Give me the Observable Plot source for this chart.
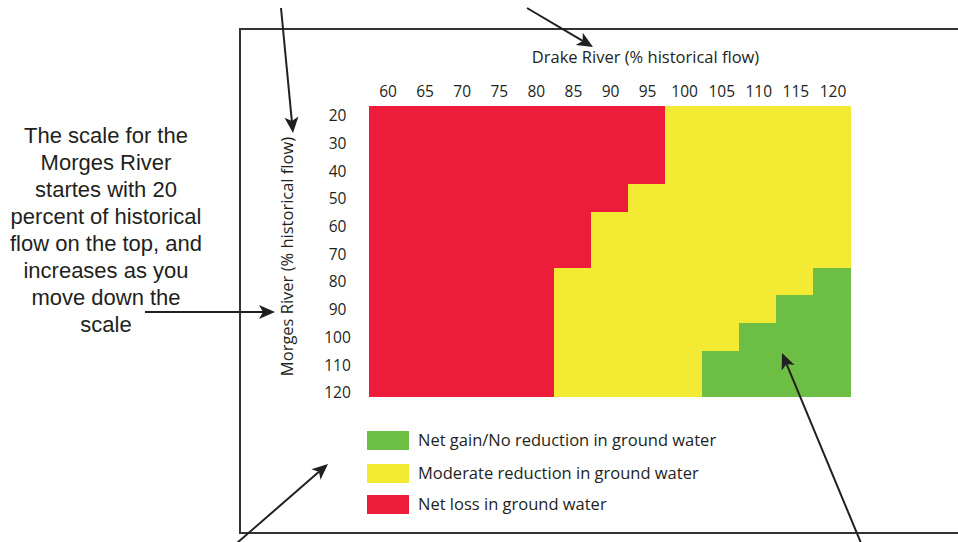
<!DOCTYPE html>
<html><head><meta charset="utf-8">
<script src="https://cdn.jsdelivr.net/npm/d3@7"></script>
<script src="https://cdn.jsdelivr.net/npm/@observablehq/plot@0.6"></script>
<style>
html,body{margin:0;padding:0;background:#fff;}
#chart svg{display:block;}
</style></head><body><div id="chart"></div>
<script>
// Drake River (% historical flow) columns, Morges River (% historical flow) rows
const drakeFlow = [60, 65, 70, 75, 80, 85, 90, 95, 100, 105, 110, 115, 120];
const morgesFlow = [20, 30, 40, 50, 60, 70, 80, 90, 100, 110, 120];
// per Morges row: highest Drake value with a net loss, lowest Drake value with a net gain
const lossUpToDrake = [95, 95, 95, 90, 85, 85, 80, 80, 80, 80, 80];
const gainFromDrake = [null, null, null, null, null, null, 120, 115, 110, 105, 105];
const categories = ["Net gain/No reduction in ground water", "Moderate reduction in ground water", "Net loss in ground water"];
const categoryColors = ["#6dbe45", "#f3eb33", "#ed1c3a"];
const drakeLabel = "Drake River (% historical flow)";
const morgesLabel = "Morges River (% historical flow)";
const noteLines = ["The scale for the", "Morges River", "startes with 20", "percent of historical", "flow on the top, and", "increases as you", "move down the", "scale"];

const cells = [];
morgesFlow.forEach((m, i) => drakeFlow.forEach(d => {
  let c = categories[1];
  if (d <= lossUpToDrake[i]) c = categories[2];
  else if (gainFromDrake[i] != null && d >= gainFromDrake[i]) c = categories[0];
  cells.push({drake: d, morges: m, outcome: c});
}));

const ink = "#231f20";
const font = "'Open Sans', sans-serif";
const plot = Plot.plot({
  width: 958, height: 542,
  marginLeft: 369, marginRight: 107, marginTop: 106, marginBottom: 145,
  style: {background: "#fff", fontFamily: font, color: ink, overflow: "visible"},
  x: {domain: [57.5, 122.5], axis: null},
  y: {domain: [16.5, 121.5], reverse: true, axis: null},
  color: {domain: categories, range: categoryColors},
  marks: [
    Plot.rect(cells, {x1: d => d.drake - 2.5, x2: d => d.drake + 2.5, y1: d => d.morges - 5, y2: d => d.morges + 5, fill: "outcome", stroke: "outcome", strokeWidth: 1, shapeRendering: "crispEdges", clip: true}),
    Plot.text(drakeFlow, {x: d => d, text: d => String(d), frameAnchor: "top", lineAnchor: "middle", textAnchor: "middle", dy: -14, fontSize: 15.5, fill: ink}),
    Plot.text(morgesFlow, {y: d => d, text: d => String(d), frameAnchor: "left", lineAnchor: "middle", textAnchor: "middle", dx: -32, fontSize: 15.5, fill: ink}),
    Plot.text([drakeLabel], {text: d => d, frameAnchor: "top", lineAnchor: "middle", textAnchor: "middle", dx: 35, dy: -49, fontSize: 16.5, fill: ink}),
    Plot.text([morgesLabel], {text: d => d, frameAnchor: "left", lineAnchor: "middle", textAnchor: "middle", rotate: -90, dx: -82, dy: 4.5, fontSize: 16.5, fill: ink})
  ]
});
document.getElementById("chart").appendChild(plot);

const svg = d3.select(plot);
// surrounding box
svg.append("rect").attr("x", 240).attr("y", 29).attr("width", 760).attr("height", 504)
  .attr("fill", "none").attr("stroke", "#333").attr("stroke-width", 2);

// legend inside the box
let colorOf;
try { const cs = plot.scale("color"); colorOf = c => cs.apply(c); } catch (e) { colorOf = c => categoryColors[categories.indexOf(c)]; }
const legend = svg.append("g").attr("text-anchor", "start");
const legendTop = [431, 464, 495];
categories.forEach((c, i) => {
  legend.append("rect").attr("x", 367).attr("y", legendTop[i]).attr("width", 42).attr("height", 19).attr("fill", colorOf(c));
  legend.append("text").attr("x", 418).attr("y", legendTop[i] + 9.5).attr("dy", "0.35em")
    .attr("text-anchor", "start").attr("font-family", font).attr("font-size", 16.5).attr("fill", ink).text(c);
});

// left note
const note = svg.append("text").attr("font-family", "'Liberation Sans', Arial, sans-serif").attr("font-size", 22)
  .attr("fill", ink).attr("text-anchor", "middle");
noteLines.forEach((t, i) => note.append("tspan").attr("x", 106).attr("y", 143 + i * 27).text(t));

// arrows
function arrow(x1, y1, x2, y2) {
  const len = Math.hypot(x2 - x1, y2 - y1), ux = (x2 - x1) / len, uy = (y2 - y1) / len, nx = -uy, ny = ux;
  const L = 16, W = 7, N = 4;
  svg.append("line").attr("x1", x1).attr("y1", y1).attr("x2", x2 - (L - N) * ux).attr("y2", y2 - (L - N) * uy)
    .attr("stroke", ink).attr("stroke-width", 2);
  const p = [[x2, y2], [x2 - L * ux + W * nx, y2 - L * uy + W * ny], [x2 - (L - N) * ux, y2 - (L - N) * uy], [x2 - L * ux - W * nx, y2 - L * uy - W * ny]];
  svg.append("path").attr("d", "M" + p.map(q => q.join(",")).join("L") + "Z").attr("fill", ink);
}
arrow(281, 8, 293, 133);
arrow(527, 8, 593, 47);
arrow(145, 312, 275, 312);
arrow(237, 543, 328, 464);
arrow(861, 543, 782, 353);
</script></body></html>
